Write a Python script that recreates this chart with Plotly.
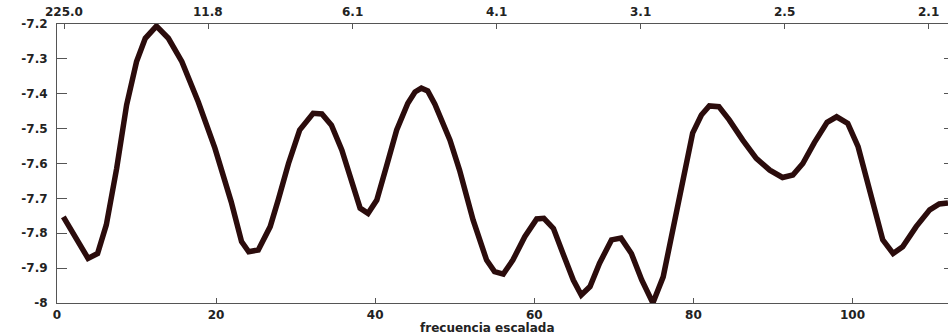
import plotly.graph_objects as go

# Scaled frequency (bottom axis) and the curve value at each sample
freq = [0.8, 3.9, 5.1, 6.2, 7.5, 8.75, 10.0, 11.1, 12.5, 14.0, 15.7, 17.75,
        19.85, 21.9, 23.2, 24.1, 25.3, 26.8, 27.8, 29.1, 30.5, 32.2, 33.3,
        34.5, 35.8, 37.4, 38.1, 39.1, 40.2, 41.4, 42.7, 44.1, 45.0, 45.8,
        46.6, 47.5, 48.7, 49.4, 50.6, 52.3, 54.0, 55.0, 56.1, 57.3, 58.8,
        60.3, 61.2, 62.4, 63.6, 64.9, 65.9, 67.0, 68.2, 69.7, 70.9, 72.2,
        73.5, 74.9, 76.2, 77.4, 78.7, 79.9, 81.0, 82.0, 83.2, 84.5, 86.2,
        87.9, 89.6, 91.2, 92.5, 93.75, 95.2, 96.8, 98.0, 99.4, 100.7, 102.1,
        103.8, 105.1, 106.3, 108.0, 109.7, 110.9, 112.0]
valor = [-7.753, -7.872, -7.858, -7.776, -7.614, -7.432, -7.308, -7.241,
         -7.206, -7.241, -7.308, -7.423, -7.556, -7.710, -7.824, -7.853,
         -7.848, -7.781, -7.705, -7.600, -7.504, -7.456, -7.458, -7.490,
         -7.561, -7.676, -7.728, -7.743, -7.705, -7.609, -7.504, -7.427,
         -7.395, -7.384, -7.392, -7.430, -7.494, -7.533, -7.619, -7.762,
         -7.877, -7.910, -7.917, -7.877, -7.810, -7.759, -7.757, -7.786,
         -7.858, -7.934, -7.977, -7.953, -7.886, -7.819, -7.814, -7.858,
         -7.934, -8.000, -7.925, -7.791, -7.628, -7.513, -7.461, -7.435,
         -7.437, -7.475, -7.533, -7.585, -7.619, -7.640, -7.633, -7.600,
         -7.540, -7.482, -7.466, -7.485, -7.552, -7.676, -7.819, -7.858,
         -7.839, -7.781, -7.733, -7.716, -7.713]

# Bottom axis ticks
x_ticks = [0, 20, 40, 60, 80, 100]
x_labels = ["0", "20", "40", "60", "80", "100"]

# Top axis: period labels at the matching frequencies
top_tick_pos = [0.9, 19.0, 37.1, 55.3, 73.3, 91.4, 109.6]
top_labels = ["225.0", "11.8", "6.1", "4.1", "3.1", "2.5", "2.1"]

# Left axis ticks
y_ticks = [-8.0, -7.9, -7.8, -7.7, -7.6, -7.5, -7.4, -7.3, -7.2]
y_labels = ["-8", "-7.9", "-7.8", "-7.7", "-7.6", "-7.5", "-7.4", "-7.3", "-7.2"]

X_RANGE = [0, 112]
Y_RANGE = [-8.0, -7.2]

tick_font = dict(family="DejaVu Sans", size=12, color="#222222", weight="bold")
axis_color = "#555555"

fig = go.Figure()
fig.add_trace(go.Scatter(
    x=freq, y=valor, mode="lines",
    line=dict(color="#2b0c0c", width=5.5),
    xaxis="x", yaxis="y", showlegend=False, hoverinfo="skip",
))
# invisible copy so the top and right axes get drawn
fig.add_trace(go.Scatter(
    x=freq, y=valor, mode="lines",
    line=dict(color="rgba(0,0,0,0)", width=0),
    xaxis="x2", yaxis="y2", showlegend=False, hoverinfo="skip",
))

# period labels over the top axis ticks
top_annotations = [
    dict(text=lab, x=pos, xref="x", y=1, yref="paper",
         xanchor="center", yanchor="bottom", yshift=3,
         showarrow=False, font=tick_font)
    for pos, lab in zip(top_tick_pos, top_labels)
]

fig.update_layout(
    width=948, height=335,
    margin=dict(l=57, r=0, t=24, b=32),
    paper_bgcolor="white", plot_bgcolor="white",
    xaxis=dict(
        range=X_RANGE, tickvals=x_ticks, ticktext=x_labels,
        ticks="inside", ticklen=5, tickcolor=axis_color, tickwidth=1,
        showline=True, linecolor=axis_color, linewidth=1,
        showgrid=False, zeroline=False, tickfont=tick_font,
        ticklabelstandoff=1,
    ),
    xaxis2=dict(
        range=X_RANGE, overlaying="x", side="top",
        tickvals=top_tick_pos, showticklabels=False,
        ticks="inside", ticklen=5, tickcolor=axis_color, tickwidth=1,
        showline=True, linecolor=axis_color, linewidth=1,
        showgrid=False, zeroline=False,
    ),
    yaxis=dict(
        range=Y_RANGE, tickvals=y_ticks, ticktext=y_labels,
        ticks="inside", ticklen=10, tickcolor=axis_color, tickwidth=1,
        showline=True, linecolor=axis_color, linewidth=1,
        showgrid=False, zeroline=False, tickfont=tick_font,
        ticklabelstandoff=6,
    ),
    yaxis2=dict(
        range=Y_RANGE, overlaying="y", side="right",
        tickvals=y_ticks, ticks="inside", ticklen=4,
        tickcolor=axis_color, showticklabels=False,
        showline=False, showgrid=False, zeroline=False,
    ),
    annotations=top_annotations + [dict(
        text="frecuencia escalada", xref="paper", yref="paper",
        x=0.4837, y=-0.09, xanchor="center", yanchor="middle",
        showarrow=False, font=tick_font,
    )],
)

fig.write_html("out.html")
